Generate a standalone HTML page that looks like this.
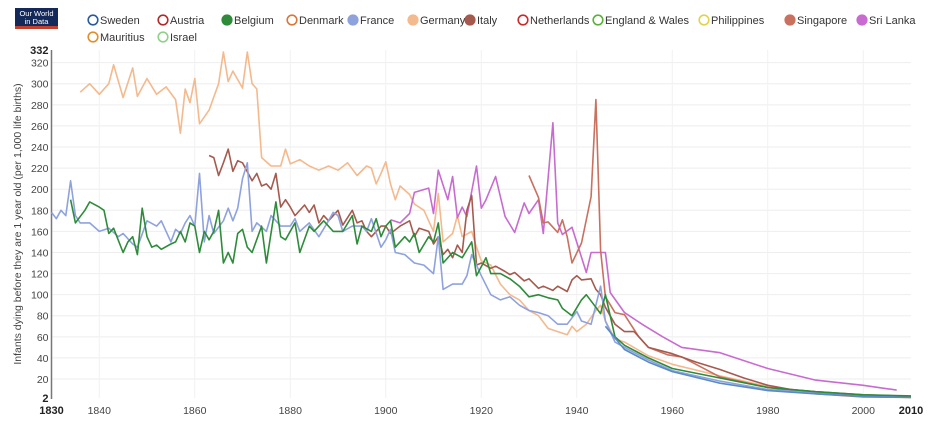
<!DOCTYPE html>
<html><head><meta charset="utf-8">
<style>
html,body{margin:0;padding:0;background:#fff;width:940px;height:423px;overflow:hidden;font-family:"Liberation Sans",Arial,sans-serif}
svg text{font-family:"Liberation Sans",Arial,sans-serif}
</style></head>
<body>
<svg id="chart" width="940" height="423" viewBox="0 0 940 423" xmlns="http://www.w3.org/2000/svg">
  <g>
    <rect x="15" y="8" width="43" height="21" fill="#13295a"/>
    <rect x="15" y="26" width="43" height="3" fill="#c4402e"/>
    <text x="36.5" y="16" font-size="7.5" fill="#fff" text-anchor="middle">Our World</text>
    <text x="36.5" y="24" font-size="7.5" fill="#fff" text-anchor="middle">in Data</text>
  </g>
  <g id="grid"></g>
  <g id="yaxis"></g>
  <g id="xaxis"></g>
  <g id="series"></g>
  <g id="legend"></g>
  <text transform="translate(21,224) rotate(-90)" font-size="10.5" fill="#444" text-anchor="middle">Infants dying before they are 1 year old (per 1,000 life births)</text>
</svg>
<script>
const yTicks = [2,20,40,60,80,100,120,140,160,180,200,220,240,260,280,300,320,332];
const xTicks = [1830,1840,1860,1880,1900,1920,1940,1960,1980,2000,2010];

const germanyYears = [1836,1838,1840,1842,1843,1845,1847,1848,1850,1852,1854,1856,1857,1858,1859,1860,1861,1863,1865,1866,1867,1868,1870,1871,1872,1873,1874,1876,1878,1879,1880,1882,1884,1886,1888,1890,1892,1894,1896,1897,1898,1899,1900,1901,1902,1903,1905,1906,1908,1910,1911,1912,1914,1915,1916,1918,1919,1920,1922,1924,1926,1928,1930,1932,1934,1936,1938,1939,1940,1942,1944,1945,1946,1948,1950,1955,1960,1970,1980,1990,2000,2010];
const germanyValues = [292,300,290,300,318,287,315,288,305,290,297,285,253,295,282,305,262,275,300,330,302,312,296,330,300,295,230,222,222,238,224,228,222,218,222,218,225,213,222,220,205,215,226,205,190,203,195,186,180,160,196,150,158,175,155,160,145,132,128,110,100,95,85,80,68,65,62,70,65,72,85,90,75,58,55,42,34,23,13,7,4,3];

const franceYears = [1830,1831,1832,1833,1834,1835,1836,1838,1840,1842,1844,1845,1847,1848,1850,1852,1853,1855,1856,1857,1858,1859,1860,1861,1862,1863,1864,1866,1867,1868,1869,1870,1871,1872,1873,1875,1876,1878,1880,1881,1882,1884,1886,1888,1889,1890,1891,1893,1895,1896,1897,1899,1900,1901,1902,1904,1906,1908,1910,1911,1912,1914,1916,1917,1918,1920,1922,1924,1926,1928,1930,1932,1934,1936,1938,1940,1941,1943,1945,1946,1948,1950,1955,1960,1970,1980,1990,2000,2008];
const franceValues = [178,172,180,175,208,175,168,168,160,163,155,158,148,145,170,165,170,150,162,158,168,175,165,215,150,175,158,170,182,170,182,210,225,160,168,160,175,165,165,172,160,168,155,170,178,175,160,165,165,160,172,145,152,162,140,138,130,128,120,155,105,110,110,118,138,118,100,95,98,90,85,83,80,72,72,84,75,72,108,75,55,50,38,28,18,10,7,4.5,3.5];

const belgiumYears = [1834,1835,1837,1838,1840,1841,1842,1843,1845,1846,1847,1848,1849,1850,1851,1852,1853,1855,1856,1857,1858,1859,1860,1861,1862,1863,1864,1865,1866,1867,1868,1869,1870,1871,1872,1874,1875,1877,1878,1879,1881,1882,1884,1885,1887,1889,1891,1893,1894,1895,1897,1898,1899,1900,1901,1902,1904,1905,1906,1907,1909,1910,1911,1912,1914,1916,1918,1919,1921,1922,1924,1926,1928,1930,1932,1934,1936,1937,1939,1941,1942,1944,1945,1946,1948,1950,1955,1960,1970,1980,1990,2000,2010];
const belgiumValues = [190,168,180,188,183,180,158,163,140,150,155,138,182,155,145,147,143,148,150,160,150,168,165,140,160,152,160,180,130,140,130,158,162,145,140,165,130,188,155,152,168,140,165,160,170,160,160,175,148,165,160,172,155,165,170,145,155,150,158,140,155,150,168,130,140,135,150,118,135,120,120,115,108,98,100,97,95,87,80,95,100,88,82,100,60,52,40,30,21,12,8,5,4];

const italyYears = [1863,1864,1865,1866,1867,1868,1869,1870,1872,1873,1874,1875,1876,1877,1878,1879,1880,1881,1883,1884,1885,1886,1887,1888,1890,1891,1893,1894,1895,1896,1897,1899,1900,1901,1903,1905,1906,1907,1909,1910,1911,1912,1913,1914,1915,1916,1917,1918,1919,1920,1922,1923,1925,1926,1927,1929,1930,1932,1933,1935,1936,1938,1939,1940,1941,1943,1944,1945,1946,1948,1950,1952,1955,1960,1965,1970,1975,1980,1985,1990,2000,2010];
const italyValues = [232,230,213,225,238,217,227,225,208,215,203,205,200,215,183,190,183,175,185,178,185,168,175,170,180,166,180,168,170,160,155,165,165,158,165,170,155,163,160,148,155,138,143,135,147,140,180,194,128,130,125,127,122,119,121,113,115,106,108,104,108,103,114,118,114,115,105,100,88,72,65,65,50,44,36,29,21,14,10,8,5,3.5];

const sriLankaYears = [1901,1903,1905,1906,1909,1910,1911,1913,1914,1915,1916,1917,1919,1920,1921,1923,1925,1927,1929,1930,1932,1933,1935,1936,1937,1939,1942,1943,1946,1947,1950,1954,1958,1962,1970,1980,1990,2000,2007];
const sriLankaValues = [171,168,177,197,201,177,218,190,212,173,183,174,222,182,190,212,174,159,187,177,190,158,263,168,157,164,121,140,140,102,83,71,60,50,45,30,19,14,9.5];

const singaporeYears = [1930,1932,1933,1934,1936,1937,1938,1939,1941,1943,1944,1945,1946,1948,1950,1953,1955,1959,1962,1970,1980,1990,2000,2010];
const singaporeValues = [213,192,168,169,159,171,155,130,149,193,285,142,98,83,81,60,50,43,41,22,12,6,3,2.5];

const swedenYears = [1946,1950,1955,1960,1970,1980,1990,2000,2010];
const swedenValues = [70,48,36,27,16,9,6,3.5,2.5];

const legendNames = ["Sweden","Austria","Belgium","Denmark","France","Germany","Italy","Netherlands","England & Wales","Philippines","Singapore","Sri Lanka","Mauritius","Israel"];
const legendColors = ["#2a5a9e","#b22a2a","#2e8b3a","#d9773a","#8ea2de","#f4b98c","#a65a4e","#cc2a2a","#5bb038","#e2d24a","#c9705e","#c86bd0","#e0902a","#8fd08a"];
const legendFilled = [false,false,true,false,true,true,true,false,false,false,true,true,false,false];

const X0=51.5, X1=911, Y0=398, Y1=50;
function xs(yr){return X0+(yr-1830)/(2010-1830)*(X1-X0);}
function ys(v){return Y0-(v-2)/(332-2)*(Y0-Y1);}
const NS="http://www.w3.org/2000/svg";
function mk(tag,attrs,parent){const e=document.createElementNS(NS,tag);for(const k in attrs)e.setAttribute(k,attrs[k]);parent.appendChild(e);return e;}

const grid=document.getElementById('grid');
const yaxis=document.getElementById('yaxis');
const xaxis=document.getElementById('xaxis');
yTicks.forEach(t=>{
  if(t!==2&&t!==332){const g=mk('line',{x1:X0,x2:X1,y1:ys(t),y2:ys(t),stroke:'#eeeeee','stroke-width':1},grid);
  
  }
  const bold=(t===2||t===332);
  const tx=mk('text',{x:X0-3,y:ys(t)+4,'font-size':bold?11:10.5,'font-weight':bold?'bold':'normal',fill:bold?'#222':'#444','text-anchor':'end'},yaxis);
  tx.textContent=t;
  
  
});
xTicks.forEach(t=>{
  if(t!==1830&&t!==2010){const g=mk('line',{x1:xs(t),x2:xs(t),y1:Y1,y2:Y0,stroke:'#f1f1f1','stroke-width':1},grid);
  
  }
  const bold=(t===1830||t===2010);
  const tx=mk('text',{x:xs(t),y:414,'font-size':bold?11:10.5,'font-weight':bold?'bold':'normal',fill:bold?'#222':'#444','text-anchor':'middle'},xaxis);
  tx.textContent=t;
  
  
});
const ax=mk('line',{x1:X0,x2:X0,y1:Y1,y2:Y0+1,stroke:'#777','stroke-width':1.5},yaxis);



const seriesG=document.getElementById('series');
function drawLine(years,vals,color,name){
  const d=years.map((y,i)=>(i?'L':'M')+xs(y).toFixed(1)+','+ys(vals[i]).toFixed(1)).join(' ');
  const p=mk('path',{d:d,fill:'none',stroke:color,'stroke-width':1.6,'stroke-linejoin':'round'},seriesG);
  
  
}
drawLine(germanyYears,germanyValues,'#f4b98c','germany-line');
drawLine(sriLankaYears,sriLankaValues,'#c86bd0','sri-lanka-line');
drawLine(singaporeYears,singaporeValues,'#c9705e','singapore-line');
drawLine(italyYears,italyValues,'#a65a4e','italy-line');
drawLine(franceYears,franceValues,'#8ea2de','france-line');
drawLine(belgiumYears,belgiumValues,'#2e8b3a','belgium-line');
drawLine(swedenYears,swedenValues,'#5a8ac8','sweden-line');

const legendX=[88,158,222,287,348,408,465,518,593,699,785,857,88,158];
const legendG=document.getElementById('legend');
legendNames.forEach((n,i)=>{
  const row=i<12?0:1;
  const cy=row?37:20;
  const g=mk('g',{},legendG);
  
  
  const cx=legendX[i]+5;
  mk('circle',{cx:cx,cy:cy,r:4.8,fill:legendFilled[i]?legendColors[i]:'#fff',stroke:legendColors[i],'stroke-width':1.6},g);
  const t=mk('text',{x:cx+7,y:cy+4,'font-size':11,fill:'#333'},g);
  t.textContent=n;
});
</script>
</body></html>
